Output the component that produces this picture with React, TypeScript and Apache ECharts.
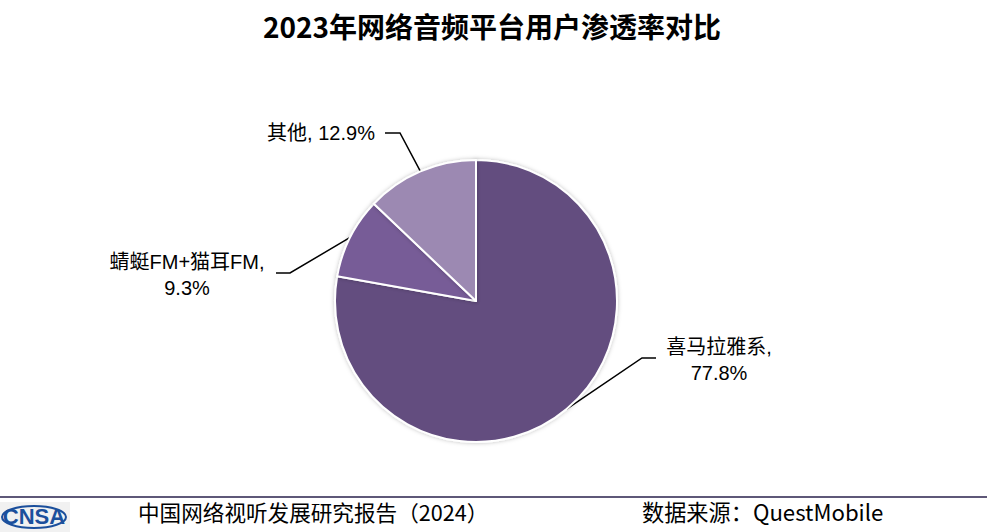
import React, { useEffect, useRef } from "react";
import * as echarts from "echarts";

const titleText = "2023年网络音频平台用户渗透率对比";
const categories = ["喜马拉雅系", "蜻蜓FM+猫耳FM", "其他"];
const shares = [77.8, 9.3, 12.9];
const sliceColors = ["#634E7F", "#775C97", "#9C89B2"];
const footerLeft = "中国网络视听发展研究报告（2024）";
const footerRight = "数据来源：QuestMobile";

const labelFont = '"Liberation Sans", Arial, "Noto Sans CJK SC", sans-serif';
const cjkFont = '"Noto Sans CJK SC", "Liberation Sans", sans-serif';

// label anchor placements (style): [labelX, labelY, elbowX, elbowY, endX]
const labelPlacements = [
  [719, 360, 642, 358, 656],
  [187, 275, 290, 273, 276],
  [321, 133, 400, 133, 385],
];

export default function App() {
  const ref = useRef<HTMLDivElement>(null);
  useEffect(() => {
    if (!ref.current) return;
    const chart = echarts.init(ref.current, null, { renderer: "svg" });
    const data = categories.map((name, i) => ({
      name,
      value: shares[i],
      itemStyle: { color: sliceColors[i] },
    }));
    chart.setOption({
      animation: false,
      backgroundColor: "#ffffff",
      graphic: [
        {
          type: "text",
          x: 492,
          y: 26,
          style: {
            text: titleText,
            font: `bold 28px ${cjkFont}`,
            fill: "#000",
            textAlign: "center",
            textVerticalAlign: "middle",
          },
        },
        {
          type: "rect",
          shape: { x: 0, y: 496, width: 987, height: 2 },
          style: { fill: "#5E5878" },
        },
        {
          type: "rect",
          shape: { x: 0, y: 502, width: 70, height: 30 },
          style: { fill: "#F1F1F1" },
        },
        {
          type: "ellipse",
          shape: { cx: 34, cy: 517, rx: 32, ry: 11 },
          style: { fill: "none", stroke: "#1B4F9C", lineWidth: 2 },
        },
        {
          type: "text",
          x: 34,
          y: 516,
          style: {
            text: "CNSA",
            font: `bold 22px "Liberation Sans", sans-serif`,
            fill: "#1B4F9C",
            textAlign: "center",
            textVerticalAlign: "middle",
          },
        },
        {
          type: "text",
          x: 138,
          y: 511,
          style: {
            text: footerLeft,
            font: `21.6px ${cjkFont}`,
            fill: "#000",
            textAlign: "left",
            textVerticalAlign: "middle",
          },
        },
        {
          type: "text",
          x: 642,
          y: 511,
          style: {
            text: footerRight,
            font: `22.2px ${cjkFont}`,
            fill: "#000",
            textAlign: "left",
            textVerticalAlign: "middle",
          },
        },
      ],
      series: [
        {
          type: "pie",
          center: [476, 301],
          radius: 141,
          startAngle: 90,
          clockwise: true,
          data,
          itemStyle: {
            borderColor: "#ffffff",
            borderWidth: 2,
            shadowBlur: 4,
            shadowColor: "rgba(0,0,0,0.25)",
          },
          emphasis: { disabled: true },
          label: {
            show: true,
            position: "outside",
            formatter: (p: any) => {
              const pct = p.value.toFixed(1) + "%";
              return p.dataIndex === 2 ? `${p.name}, ${pct}` : `${p.name},\n${pct}`;
            },
            fontFamily: labelFont,
            fontSize: 20,
            lineHeight: 26,
            color: "#000",
            align: "center",
          },
          labelLine: {
            show: true,
            length: 20,
            length2: 15,
            lineStyle: { color: "#000", width: 1.5 },
          },
          labelLayout: (params: any) => {
            const pl = labelPlacements[params.dataIndex];
            const p0 = params.labelLinePoints ? params.labelLinePoints[0] : [pl[2], pl[3]];
            return {
              x: pl[0],
              y: pl[1],
              align: "center",
              verticalAlign: "middle",
              labelLinePoints: [p0, [pl[2], pl[3]], [pl[4], pl[3]]],
            };
          },
        },
      ],
    });
    return () => chart.dispose();
  }, []);
  return (
    <div
      ref={ref}
      style={{ position: "absolute", left: 0, top: 0, width: 990, height: 532 }}
    />
  );
}
